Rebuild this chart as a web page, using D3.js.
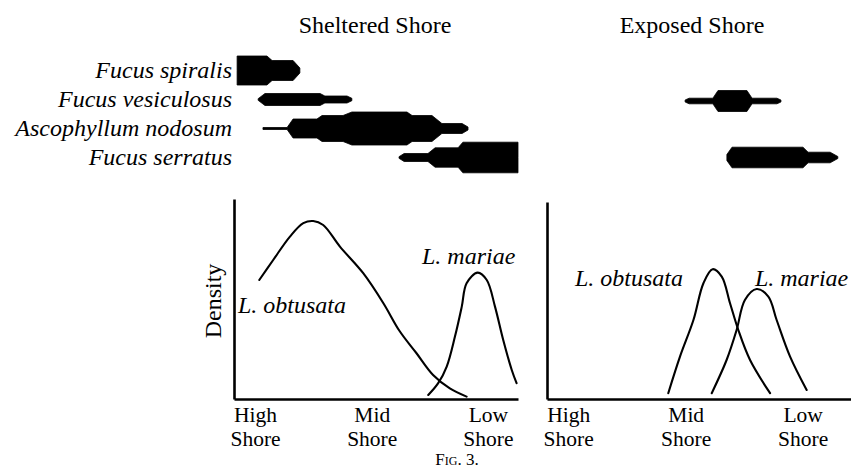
<!DOCTYPE html>
<html><head><meta charset="utf-8">
<script src="https://cdn.jsdelivr.net/npm/d3@7"></script>
<style>
body{margin:0;background:#fff}
svg text{font-family:"Liberation Serif","Times New Roman",serif;fill:#000}
</style></head><body>
<svg id="chart" width="851" height="468"></svg>
<script>
// ---------- data ----------
const panelTitles = ["Sheltered Shore", "Exposed Shore"];
const species = ["Fucus spiralis", "Fucus vesiculosus", "Ascophyllum nodosum", "Fucus serratus"];
const tickLabels = [["High", "Shore"], ["Mid", "Shore"], ["Low", "Shore"]];
const tickPositions = [7.4, 48.5, 89.4];

// kite profiles: [shore position (0 = high, 100 = low), half-width abundance]
const shelteredSpiralis = [[1.1,0],[1.1,14.5],[11.6,14.5],[13.4,10],[20.8,10],[23.2,2.5],[23.2,0]];
const shelteredVesiculosus = [[8.5,0.8],[10.9,6],[30.3,6],[32.0,3.5],[39.8,3.5],[41.5,1.2]];
const shelteredAscophyllum = [[10.2,1],[18.7,1],[20.8,9.5],[29.2,9.5],[31.0,13],[38.4,13],[41.5,16.5],[60.9,16.5],[62.7,13],[69.7,13],[73.2,5],[80.3,5],[82.4,1.5]];
const shelteredSerratus = [[58.1,0.8],[59.9,4],[68.3,4],[70.8,9.7],[78.9,9.7],[80.6,15.3],[100,15.3],[100,0]];
const exposedVesiculosus = [[48.3,1],[49.7,2.8],[58.0,2.8],[59.8,10.5],[69.9,10.5],[71.7,2.8],[80.4,2.8],[81.8,1]];
const exposedSerratus = [[62.9,3],[64.7,10.3],[89.5,10.3],[91.3,5.3],[99.0,5.3],[101.7,1]];

// density curves: [shore position, density]
const shelteredObtusata = [[8.9,59.5],[13.8,69.5],[19.7,81.2],[24.4,87.9],[27.9,89],[31.4,87],[37.3,76.2],[45.5,62.9],[52.6,47.9],[58.3,34],[64.2,23],[70.1,12],[76.0,5.3],[81.9,1.2]];
const shelteredMariae = [[68.4,2],[71.9,7.9],[74.9,16.2],[77.8,31.2],[80.2,46.2],[81.9,57.9],[85.8,63.2],[89.0,59.5],[91.9,46.2],[94.8,29.5],[97.8,14.5],[99.5,7.9]];
const exposedObtusata = [[42.4,2.9],[46.5,21.2],[51.2,39.5],[54.7,57.9],[57.9,64.9],[61.1,61.2],[64.0,47.9],[66.9,34.5],[71.0,19.5],[78.0,2.9]];
const exposedMariae = [[57.6,2.9],[62.8,19.5],[66.3,34.5],[69.2,49.5],[73.3,55],[77.4,51.2],[80.3,39.5],[85.0,21.2],[90.8,4.5]];

const curveLabels = [
  {panel: 0, text: "L. obtusata", pos: 1.4, val: 43},
  {panel: 0, text: "L. mariae", pos: 66.2, val: 67.5},
  {panel: 1, text: "L. obtusata", pos: 9.8, val: 56.5},
  {panel: 1, text: "L. mariae", pos: 72.7, val: 56.5}
];

// ---------- layout ----------
const svg = d3.select("#chart");
const FS = 24;
const xScales = [
  d3.scaleLinear().domain([0, 100]).range([234, 518]),
  d3.scaleLinear().domain([0, 106.3]).range([547, 851])
];
const y = d3.scaleLinear().domain([0, 100]).range([399, 199]);
const row = d3.scalePoint().domain(species).range([70.5, 157.5]);
const hw = d3.scaleLinear().domain([0, 20]).range([0, 20]);

// titles
const titleX = [375, 692];
panelTitles.forEach((t, i) => {
  svg.append("text").attr("x", titleX[i]).attr("y", 33)
    .attr("text-anchor", "middle").attr("font-size", FS).text(t);
});

// species labels
svg.append("g").selectAll("text").data(species).join("text")
  .attr("x", 232).attr("y", d => row(d) + 7.5)
  .attr("text-anchor", "end").attr("font-size", FS).attr("font-style", "italic")
  .text(d => d);

// kites
const kites = [
  {panel: 0, sp: species[0], data: shelteredSpiralis},
  {panel: 0, sp: species[1], data: shelteredVesiculosus},
  {panel: 0, sp: species[2], data: shelteredAscophyllum},
  {panel: 0, sp: species[3], data: shelteredSerratus},
  {panel: 1, sp: species[1], data: exposedVesiculosus},
  {panel: 1, sp: species[3], data: exposedSerratus}
];
kites.forEach(k => {
  const x = xScales[k.panel];
  const c = row(k.sp) + (k.panel === 1 && k.sp === species[1] ? 1.5 : 0);
  const area = d3.area()
    .x(d => x(d[0]))
    .y0(d => c - hw(d[1]))
    .y1(d => c + hw(d[1]))
    .curve(d3.curveLinear);
  svg.append("path").datum(k.data).attr("d", area)
    .attr("fill", "#000").attr("stroke", "#000").attr("stroke-width", 0.8);
});

// axes
const yTop = [y.range()[1], y.range()[1] + 3];
[0, 1].forEach(p => {
  const x = xScales[p];
  const gx = svg.append("g").attr("transform", `translate(0,${y(0)})`)
    .call(d3.axisBottom(x).tickValues(tickPositions).tickSize(0).tickSizeOuter(0).tickFormat(""));
  gx.select(".domain").attr("stroke", "#000").attr("stroke-width", 2.4);
  gx.selectAll(".tick text").remove();
  gx.selectAll(".tick").each(function(d, i) {
    const t = d3.select(this).append("text")
      .attr("text-anchor", "middle").attr("font-size", 21.5).attr("fill", "#000")
      .attr("font-family", '"Liberation Serif","Times New Roman",serif');
    t.append("tspan").attr("x", 0).attr("y", 23).text(tickLabels[i][0]);
    t.append("tspan").attr("x", 0).attr("y", 47).text(tickLabels[i][1]);
  });
  const yp = d3.scaleLinear().domain([0, 100]).range([y(0), yTop[p]]);
  const gy = svg.append("g").attr("transform", `translate(${x(0)},0)`)
    .call(d3.axisLeft(yp).tickValues([]).tickSizeOuter(0));
  gy.select(".domain").attr("stroke", "#000").attr("stroke-width", 2.6);
});

// density label
svg.append("text").attr("transform", `translate(221,${y(49)}) rotate(-90)`)
  .attr("text-anchor", "middle").attr("font-size", FS).text("Density");

// density curves
const line = (p) => d3.line().x(d => xScales[p](d[0])).y(d => y(d[1])).curve(d3.curveCatmullRom.alpha(0.5));
[[0, shelteredObtusata], [0, shelteredMariae], [1, exposedObtusata], [1, exposedMariae]].forEach(([p, data]) => {
  svg.append("path").datum(data).attr("d", line(p))
    .attr("fill", "none").attr("stroke", "#000").attr("stroke-width", 2.1).attr("stroke-linecap", "round");
});

// curve labels
svg.append("g").selectAll("text").data(curveLabels).join("text")
  .attr("x", d => xScales[d.panel](d.pos)).attr("y", d => y(d.val))
  .attr("font-size", FS).attr("font-style", "italic")
  .text(d => d.text);

// caption
svg.append("text").attr("x", 457).attr("y", 465).attr("text-anchor", "middle")
  .attr("font-size", 17).attr("font-variant", "small-caps").text("Fig. 3.");
</script>
</body></html>
